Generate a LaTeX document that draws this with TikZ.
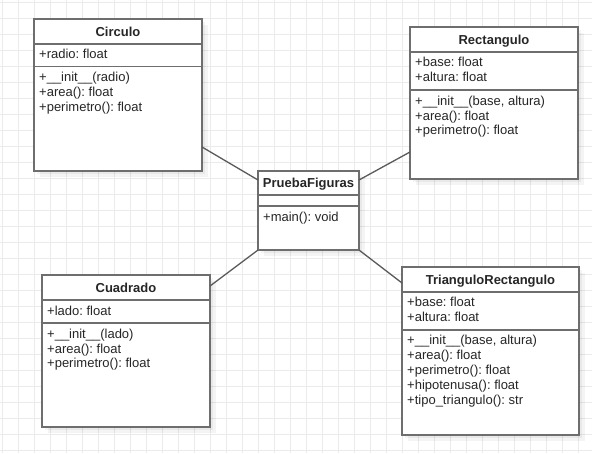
\documentclass[tikz,border=0pt]{standalone}
\usepackage{fontspec}
\setmainfont{Liberation Sans}
\usetikzlibrary{calc}
\frenchspacing
\definecolor{gridc}{HTML}{EBEBEB}
\definecolor{framec}{HTML}{6E6E6E}
\definecolor{linkc}{HTML}{5A5A5A}
\tikzset{
  gridline/.style={draw=gridc, line width=1pt},
  umlshadow/.style={fill=black, fill opacity=0.045, draw=none},
  umlframe/.style={draw=framec, line width=1.6pt, fill=white, rectangle, inner sep=0pt, outer sep=0pt},
  umlsep/.style={draw=framec, line width=1.6pt},
  umltitle/.style={anchor=base, inner sep=0pt, font=\fontsize{13}{15}\selectfont\bfseries\frenchspacing, text=black!85},
  umltext/.style={anchor=base west, inner sep=0pt, font=\fontsize{13}{15}\selectfont\frenchspacing, text=black!85},
  link/.style={draw=linkc, line width=1.3pt},
}
% #1 name, #2 left, #3 top, #4 right, #5 bottom, #6 sep1, #7 sep2, #8 title
\newcommand{\umlbox}[8]{%
  \fill[umlshadow] (#2+3,#3+3) rectangle (#4+3,#5+3);
  \fill[umlshadow] (#2+6,#3+6) rectangle (#4+6,#5+6);
  \node[umlframe, minimum width={(#4-#2)*1pt}, minimum height={(#5-#3)*1pt}] (#1) at ({(#2+#4)/2},{(#3+#5)/2}) {};
  \draw[umlsep] (#1.west |- 0,#6) -- (#1.east |- 0,#6);
  \draw[umlsep] (#1.west |- 0,#7) -- (#1.east |- 0,#7);
  \node[umltitle] (#1-title) at ({(#2+#4)/2},{(#3+#6)/2+4.7}) {#8};
}
\newcommand{\umlrow}[4]{\node[umltext] (#1) at (#2,#3) {#4};}
\begin{document}
\begin{tikzpicture}[x=1pt,y=-1pt]
\useasboundingbox (0,0) rectangle (592,453);
\fill[white] (0,0) rectangle (592,453);
\foreach \k in {0,...,36} \draw[gridline] ({2+16*\k},0) -- ({2+16*\k},453);
\foreach \k in {0,...,28} \draw[gridline] (0,{2.7+16*\k}) -- (592,{2.7+16*\k});

% Circulo
\umlbox{circ}{34}{19}{202}{171}{43.7}{66.3}{Circulo}
\umlrow{circ-a1}{39}{58.7}{+radio: float}
\umlrow{circ-m1}{39}{81.7}{+\_\_init\_\_(radio)}
\umlrow{circ-m2}{39}{96.5}{+area(): float}
\umlrow{circ-m3}{39}{111.3}{+perimetro(): float}

% Rectangulo
\umlbox{rect}{410}{27}{578}{179}{52}{90}{Rectangulo}
\umlrow{rect-a1}{415}{66}{+base: float}
\umlrow{rect-a2}{415}{81.5}{+altura: float}
\umlrow{rect-m1}{415}{105.5}{+\_\_init\_\_(base, altura)}
\umlrow{rect-m2}{415}{120.2}{+area(): float}
\umlrow{rect-m3}{415}{134.9}{+perimetro(): float}

% PruebaFiguras
\umlbox{pf}{258}{171}{359}{250}{195}{206}{PruebaFiguras}
\umlrow{pf-m1}{263}{221}{+main(): void}

% Cuadrado
\umlbox{cuad}{42}{275}{210}{427}{300}{323}{Cuadrado}
\umlrow{cuad-a1}{47}{315}{+lado: float}
\umlrow{cuad-m1}{47}{338.3}{+\_\_init\_\_(lado)}
\umlrow{cuad-m2}{47}{353}{+area(): float}
\umlrow{cuad-m3}{47}{367.7}{+perimetro(): float}

% TrianguloRectangulo
\umlbox{tri}{402}{267}{579}{435}{292}{330}{TrianguloRectangulo}
\umlrow{tri-a1}{407}{306.5}{+base: float}
\umlrow{tri-a2}{407}{321.5}{+altura: float}
\umlrow{tri-m1}{407}{344.5}{+\_\_init\_\_(base, altura)}
\umlrow{tri-m2}{407}{359.4}{+area(): float}
\umlrow{tri-m3}{407}{374.3}{+perimetro(): float}
\umlrow{tri-m4}{407}{389.2}{+hipotenusa(): float}
\umlrow{tri-m5}{407}{404.1}{+tipo\_triangulo(): str}

% connectors
\draw[link] ([yshift=-52pt]circ.east) -- ([yshift=30.5pt]pf.west);
\draw[link] ([yshift=-49pt]rect.west) -- ([yshift=30.5pt]pf.east);
\draw[link] (pf.south west) -- ([yshift=65pt]cuad.east);
\draw[link] (pf.south east) -- ([yshift=68pt]tri.west);
\end{tikzpicture}
\end{document}
